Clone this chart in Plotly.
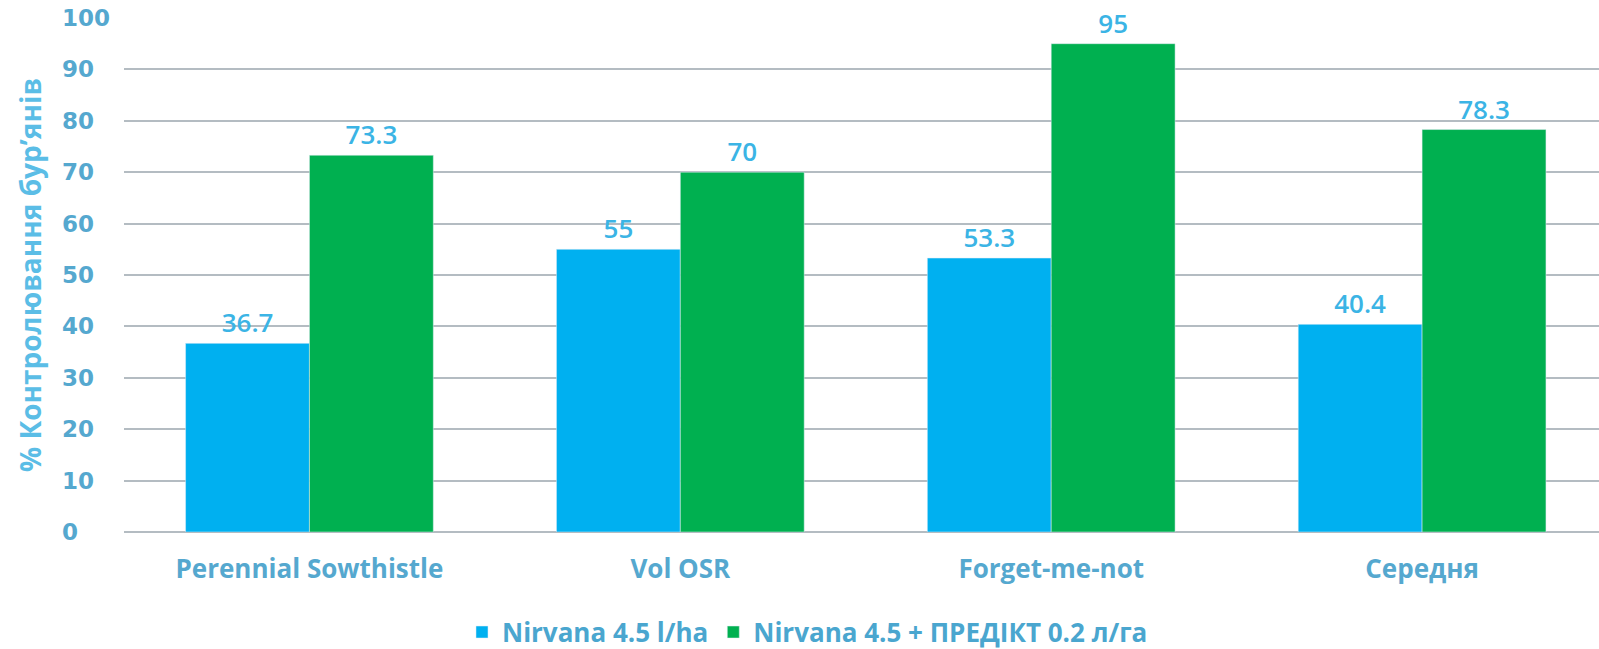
import plotly.graph_objects as go

categories = ["Perennial Sowthistle", "Vol OSR", "Forget-me-not", "Середня"]
series1_name = "Nirvana 4.5 l/ha"
series1 = [36.7, 55, 53.3, 40.4]
series2_name = "Nirvana 4.5 + ПРЕДІКТ 0.2 л/га"
series2 = [73.3, 70, 95, 78.3]
y_ticks = [0, 10, 20, 30, 40, 50, 60, 70, 80, 90, 100]
y_tick_labels = ["0", "10", "20", "30", "40", "50", "60", "70", "80", "90", "100"]

# tick labels in the reference are left-aligned: pad with invisible digits
pad_len = max(len(s) for s in y_tick_labels)
y_tick_text = [s + ("<span style='color:rgba(0,0,0,0)'>" + "0" * (pad_len - len(s)) + "</span>"
                    if len(s) < pad_len else "") for s in y_tick_labels]

label_color = "#3BB4E5"
tick_color = "#55A8CF"

fig = go.Figure()
fig.add_bar(x=categories, y=series1, name=series1_name, marker_color="#00B0F0",
            text=[str(v) for v in series1], textposition="outside",
            textfont=dict(color=label_color, size=26, family="Open Sans", weight=600), cliponaxis=False)
fig.add_bar(x=categories, y=series2, name=series2_name, marker_color="#00B050",
            text=[str(v) for v in series2], textposition="outside",
            textfont=dict(color=label_color, size=26, family="Open Sans", weight=600), cliponaxis=False)

fig.update_layout(
    width=1599, height=649,
    paper_bgcolor="white", plot_bgcolor="white",
    margin=dict(l=124, r=0, t=18, b=117),
    barmode="group", bargap=0.332, bargroupgap=0,
    showlegend=True,
    legend=dict(orientation="h", x=0.505, xanchor="center", xref="container",
                y=0.026, yanchor="middle", yref="container",
                font=dict(family="Open Sans", size=26, color="#4AA6CF", weight="bold"),
                itemwidth=30, traceorder="normal"),
    xaxis=dict(range=[-0.5, 3.477], showgrid=False, showline=False, ticks="", automargin=False,
               ticklabelstandoff=19,
               tickfont=dict(family="Open Sans", size=26, color=tick_color, weight="bold")),
    yaxis=dict(range=[0, 100], tickvals=y_ticks, ticktext=y_tick_text,
               showgrid=True, gridcolor="#B4BCC2", gridwidth=2,
               zeroline=True, zerolinecolor="#B4BCC2", zerolinewidth=2, showline=False,
               ticks="", ticklabelstandoff=13, automargin=False, ticklabeloverflow="allow",
               tickfont=dict(family="DejaVu Sans", size=23, color=tick_color, weight="bold"),
               title=dict(text="% Контролювання бур’янів", standoff=12,
                          font=dict(family="Open Sans", size=28, color="#5BBDE6", weight="bold"))),
)
fig.write_html("out.html", config={"displayModeBar": False},
               post_script="document.body.style.margin='0';")
